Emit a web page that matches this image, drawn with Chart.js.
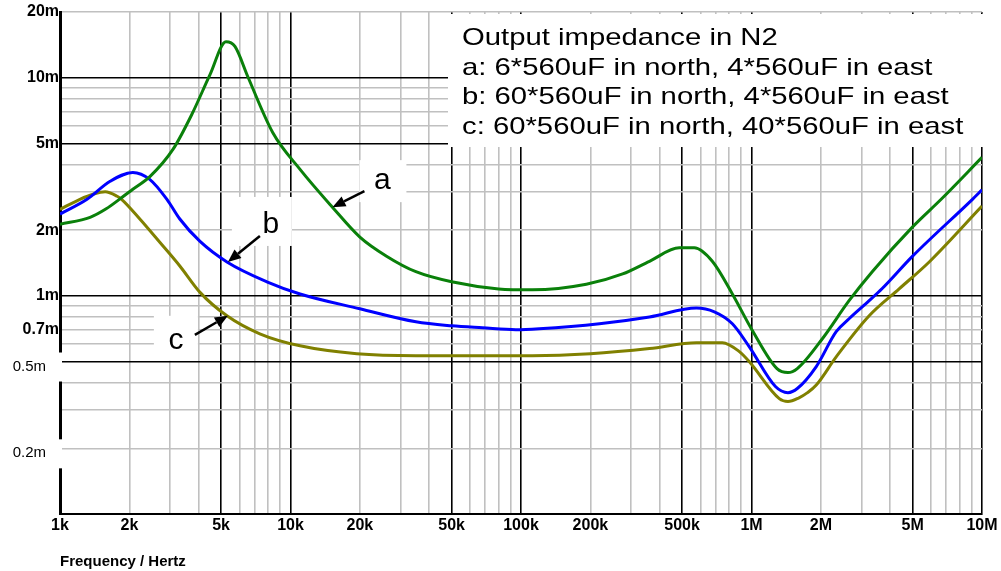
<!DOCTYPE html>
<html>
<head>
<meta charset="utf-8">
<script src="https://cdn.jsdelivr.net/npm/chart.js@4.4.0/dist/chart.umd.min.js"></script>
<style>
  html, body { margin: 0; padding: 0; background: #fff; }
  #wrap { width: 1001px; height: 571px; position: relative; }
</style>
</head>
<body>
<div id="wrap"><canvas id="chart" width="1001" height="571"></canvas></div>
<script>
// frequency in Hz, impedance in milliohm
const freqA = [1000, 1350, 1580, 1860, 2070, 2460, 3090, 3730, 4470, 5250, 5740, 6530, 8370, 11000, 15200, 20000, 26100, 35000, 50000, 80000,
  112000, 192000, 276000, 361000, 486000, 565000, 676000, 826000, 1010000, 1290000, 1440000, 1580000, 2030000, 2650000, 3340000, 5000000, 6650000, 10000000];
const zA = [2.13, 2.29, 2.5, 2.83, 3.08, 3.53, 4.69, 6.78, 10.3, 14.6, 13.9, 10.1, 5.61, 3.8, 2.55, 1.86, 1.52, 1.29, 1.16, 1.076,
  1.065, 1.13, 1.26, 1.44, 1.66, 1.66, 1.44, 1.02, 0.692, 0.464, 0.445, 0.464, 0.636, 0.95, 1.29, 2.07, 2.77, 4.31];

const freqB = [1000, 1310, 1650, 2070, 2450, 2910, 3310, 4040, 5300, 7900, 11000, 20000, 35000, 50000, 68000, 95000, 120000, 219000, 361000, 577000,
  690000, 826000, 977000, 1270000, 1440000, 1580000, 1910000, 2330000, 2650000, 3240000, 3690000, 5000000, 9090000, 10000000];
const zB = [2.37, 2.77, 3.35, 3.68, 3.42, 2.77, 2.25, 1.78, 1.43, 1.16, 1.02, 0.872, 0.76, 0.729, 0.714, 0.70, 0.707, 0.745, 0.80, 0.88,
  0.845, 0.745, 0.585, 0.384, 0.36, 0.376, 0.474, 0.685, 0.785, 0.95, 1.08, 1.52, 2.77, 3.06];

const freqC = [1000, 1220, 1400, 1570, 1770, 1850, 2220, 2710, 3310, 4040, 5300, 7360, 11000, 19400, 35000, 112000, 200000, 361000, 577000, 748000,
  886000, 977000, 1320000, 1440000, 1600000, 1750000, 1910000, 2330000, 3240000, 4370000, 5900000, 10000000];
const zC = [2.49, 2.77, 2.93, 3.0, 2.86, 2.77, 2.25, 1.76, 1.37, 1.04, 0.81, 0.67, 0.59, 0.543, 0.532, 0.532, 0.543, 0.573, 0.61, 0.61,
  0.555, 0.5, 0.338, 0.328, 0.34, 0.36, 0.39, 0.525, 0.81, 1.076, 1.43, 2.58];

// axis ticks
const xGrid = [1e3, 2e3, 3e3, 4e3, 5e3, 6e3, 7e3, 8e3, 9e3, 1e4, 2e4, 3e4, 4e4, 5e4, 6e4, 7e4, 8e4, 9e4,
  1e5, 2e5, 3e5, 4e5, 5e5, 6e5, 7e5, 8e5, 9e5, 1e6, 2e6, 3e6, 4e6, 5e6, 6e6, 7e6, 8e6, 9e6, 1e7];
const xMajor = [5e3, 1e4, 5e4, 1e5, 5e5, 1e6, 5e6, 1e7];
const xTickValues = [1e3, 2e3, 5e3, 1e4, 2e4, 5e4, 1e5, 2e5, 5e5, 1e6, 2e6, 5e6, 1e7];
const xTickLabels = ['1k', '2k', '5k', '10k', '20k', '50k', '100k', '200k', '500k', '1M', '2M', '5M', '10M'];

const yGrid = [0.1, 0.2, 0.3, 0.4, 0.5, 0.6, 0.7, 0.8, 0.9, 1, 2, 3, 4, 5, 6, 7, 8, 9, 10, 20];
const yMajor = [0.5, 1, 5, 10];
const yTickValues = [20, 10, 5, 2, 1, 0.7];
const yTickLabels = ['20m', '10m', '5m', '2m', '1m', '0.7m'];
const yBoxValues = [0.5, 0.2];
const yBoxLabels = ['0.5m', '0.2m'];

const titleLines = ['Output impedance in N2', 'a: 6*560uF in north, 4*560uF in east',
  'b: 60*560uF in north, 4*560uF in east', 'c: 60*560uF in north, 40*560uF in east'];

// arrows: tip sits on the curve
const arrowNames = ['a', 'b', 'c'];
const arrowFreq = [15200, 5350, 5350];
const arrowZ = [2.55, 1.43, 0.81];

const FONT = "'Liberation Sans', Arial, sans-serif";
const near = (a, b) => Math.abs(a - b) / b < 1e-6;
const findIn = (list, v) => list.findIndex(t => near(v, t));

// pixel offsets from the tip (style only)
const arrowTail = [[32, -16], [32, -26], [-33, 19]];
const arrowLabel = [[50, -18], [43, -29], [-52, 33]];
const arrowBox = [[27, -47, 47, 42], [4, -65, 60, 49], [-74, 0, 44, 45]];

const notes = {
  id: 'notes',
  beforeDatasetsDraw(chart) {
    const c = chart.ctx;
    const xs = chart.scales.x, ys = chart.scales.y;
    c.save();
    c.fillStyle = '#fff';
    c.fillRect(448, 14, 553, 133);
    arrowNames.forEach((n, i) => {
      const px = xs.getPixelForValue(arrowFreq[i]);
      const py = ys.getPixelForValue(arrowZ[i]);
      const b = arrowBox[i];
      c.fillRect(px + b[0], py + b[1], b[2], b[3]);
    });
    // the two small labels sit on white boxes over the axis
    c.font = '15px ' + FONT;
    c.textAlign = 'right';
    c.textBaseline = 'middle';
    yBoxValues.forEach((v, i) => {
      const py = ys.getPixelForValue(v);
      c.fillStyle = '#fff';
      c.fillRect(0, py - 9, 62, 29);
      c.fillStyle = '#000';
      c.fillText(yBoxLabels[i], 46, py + 5);
    });
    c.restore();
  },
  afterDatasetsDraw(chart) {
    const c = chart.ctx;
    const xs = chart.scales.x, ys = chart.scales.y;
    c.save();
    c.fillStyle = '#000';
    c.strokeStyle = '#000';
    // title block, text is a bit wide in the original
    c.font = '24px ' + FONT;
    c.textBaseline = 'alphabetic';
    c.textAlign = 'left';
    titleLines.forEach((t, i) => {
      c.save();
      c.translate(462, 45 + i * 29.7);
      c.scale(1.22, 1);
      c.fillText(t, 0, 0);
      c.restore();
    });
    arrowNames.forEach((n, i) => {
      const px = xs.getPixelForValue(arrowFreq[i]);
      const py = ys.getPixelForValue(arrowZ[i]);
      const tx = px + arrowTail[i][0], ty = py + arrowTail[i][1];
      const ang = Math.atan2(py - ty, px - tx);
      const hl = 13, hw = 5.5;
      const bx = px - hl * Math.cos(ang), by = py - hl * Math.sin(ang);
      c.lineWidth = 2.5;
      c.beginPath();
      c.moveTo(tx, ty);
      c.lineTo(bx, by);
      c.stroke();
      c.beginPath();
      c.moveTo(px, py);
      c.lineTo(bx + hw * Math.sin(ang), by - hw * Math.cos(ang));
      c.lineTo(bx - hw * Math.sin(ang), by + hw * Math.cos(ang));
      c.closePath();
      c.fill();
      c.font = '30px ' + FONT;
      c.textAlign = 'center';
      c.fillText(n, px + arrowLabel[i][0], py + arrowLabel[i][1]);
    });
    c.restore();
  }
};

const line = (xs, ys, color) => ({
  data: xs.map((f, i) => ({ x: f, y: ys[i] })),
  borderColor: color,
  borderWidth: 3,
  pointRadius: 0,
  cubicInterpolationMode: 'monotone',
  fill: false
});

new Chart(document.getElementById('chart'), {
  type: 'line',
  data: {
    datasets: [
      Object.assign(line(freqA, zA, '#0a800a'), { label: 'a' }),
      Object.assign(line(freqB, zB, '#0000ff'), { label: 'b' }),
      Object.assign(line(freqC, zC, '#808000'), { label: 'c' })
    ]
  },
  options: {
    responsive: false,
    animation: false,
    layout: { padding: { top: 12, right: 19, left: 0, bottom: 0 } },
    plugins: { legend: { display: false }, tooltip: { enabled: false } },
    scales: {
      x: {
        type: 'logarithmic',
        min: 1e3,
        max: 1e7,
        afterBuildTicks: s => { s.ticks = xGrid.map(v => ({ value: v })); },
        afterFit: s => { s.height = 57; },
        grid: {
          color: ctx => findIn(xMajor, ctx.tick.value) >= 0 ? '#000' : '#c0c0c0',
          lineWidth: 1.6,
          drawTicks: false
        },
        border: { color: '#000', width: 2 },
        ticks: {
          autoSkip: false,
          maxRotation: 0,
          padding: 2,
          color: '#000',
          font: { family: FONT, size: 16, weight: 'bold' },
          callback: v => { const k = findIn(xTickValues, v); return k >= 0 ? xTickLabels[k] : ''; }
        },
        title: {
          display: true,
          text: 'Frequency / Hertz',
          align: 'start',
          color: '#000',
          font: { family: FONT, size: 15, weight: 'bold' },
          padding: { top: 0, bottom: 0 }
        }
      },
      y: {
        type: 'logarithmic',
        min: 0.1,
        max: 20,
        afterBuildTicks: s => { s.ticks = yGrid.map(v => ({ value: v })); },
        afterFit: s => { s.width = 60; },
        grid: {
          color: ctx => findIn(yMajor, ctx.tick.value) >= 0 ? '#000' : '#c0c0c0',
          lineWidth: 1.6,
          drawTicks: false
        },
        border: { color: '#000', width: 3 },
        ticks: {
          autoSkip: false,
          padding: 1,
          color: '#000',
          font: { family: FONT, size: 16, weight: 'bold' },
          callback: v => { const k = findIn(yTickValues, v); return k >= 0 ? yTickLabels[k] : ''; }
        }
      }
    }
  },
  plugins: [notes]
});
</script>
</body>
</html>
